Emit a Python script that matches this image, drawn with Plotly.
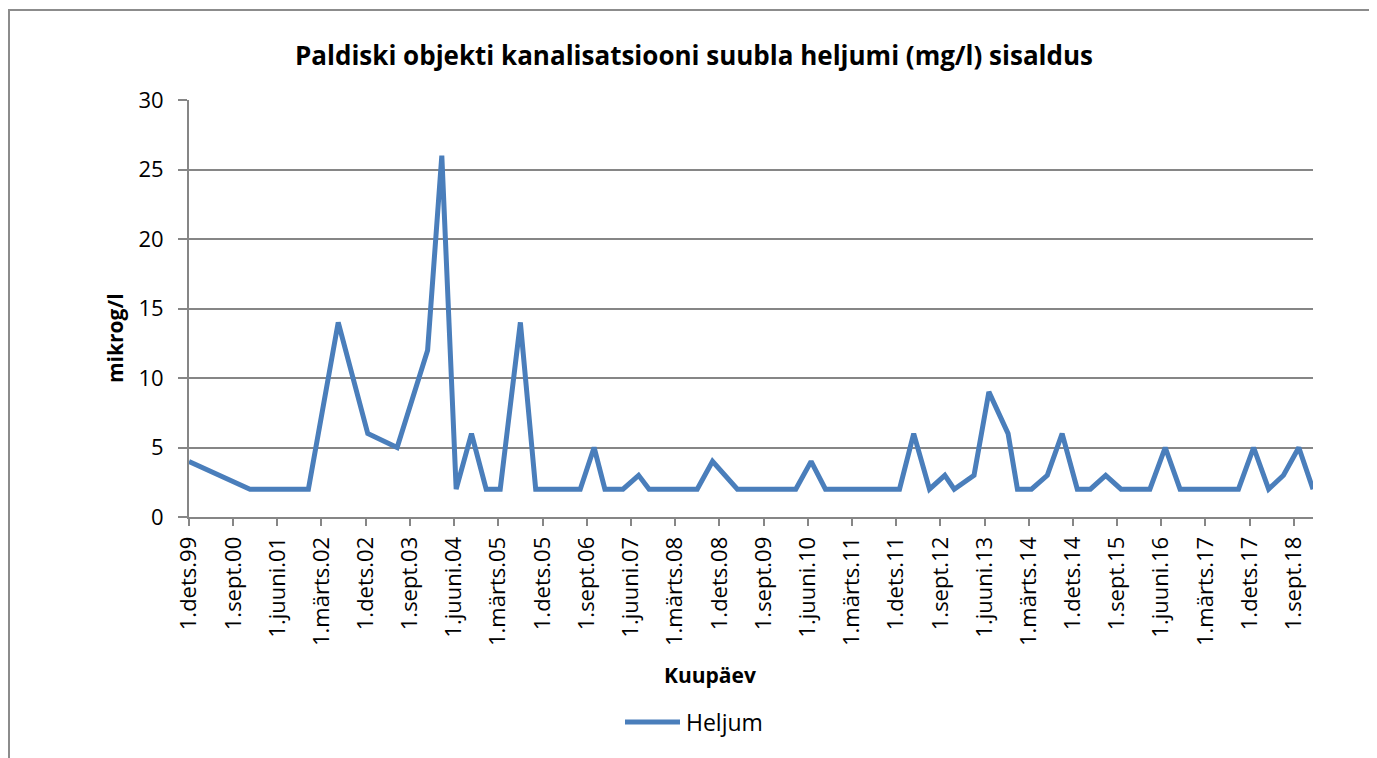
import plotly.graph_objects as go

# ---- data ----
dates = [
    "1999-12-01", "2000-12-13", "2001-12-10", "2002-06-13", "2002-12-13",
    "2003-06-13", "2003-12-19", "2004-03-16", "2004-06-13", "2004-09-16",
    "2004-12-16", "2005-03-13", "2005-07-16", "2005-10-19", "2006-07-22",
    "2006-10-16", "2006-12-22", "2007-04-13", "2007-07-19", "2007-09-22",
    "2008-07-16", "2008-10-19", "2009-03-22", "2010-03-19", "2010-06-22",
    "2010-09-19", "2011-12-22", "2012-03-19", "2012-06-25", "2012-09-28",
    "2012-11-25", "2013-03-28", "2013-06-28", "2013-10-25", "2013-12-22",
    "2014-03-19", "2014-06-25", "2014-09-25", "2014-12-28", "2015-03-19",
    "2015-06-22", "2015-09-25", "2016-03-22", "2016-06-25", "2016-09-25",
    "2017-09-22", "2017-12-25", "2018-03-28", "2018-06-28", "2018-10-01",
    "2018-12-28",
]
heljum = [
    4, 2, 2, 14, 6,
    5, 12, 26, 2, 6,
    2, 2, 14, 2, 2,
    5, 2, 2, 3, 2,
    2, 4, 2, 2, 4,
    2, 2, 6, 2, 3,
    2, 3, 9, 6, 2,
    2, 3, 6, 2, 2,
    3, 2, 2, 5, 2,
    2, 5, 2, 3, 5,
    2,
]
tick_dates = [
    "1999-12-01", "2000-09-01", "2001-06-01", "2002-03-01", "2002-12-01",
    "2003-09-01", "2004-06-01", "2005-03-01", "2005-12-01", "2006-09-01",
    "2007-06-01", "2008-03-01", "2008-12-01", "2009-09-01", "2010-06-01",
    "2011-03-01", "2011-12-01", "2012-09-01", "2013-06-01", "2014-03-01",
    "2014-12-01", "2015-09-01", "2016-06-01", "2017-03-01", "2017-12-01",
    "2018-09-01",
]
tick_labels = [
    "1.dets.99", "1.sept.00", "1.juuni.01", "1.märts.02", "1.dets.02",
    "1.sept.03", "1.juuni.04", "1.märts.05", "1.dets.05", "1.sept.06",
    "1.juuni.07", "1.märts.08", "1.dets.08", "1.sept.09", "1.juuni.10",
    "1.märts.11", "1.dets.11", "1.sept.12", "1.juuni.13", "1.märts.14",
    "1.dets.14", "1.sept.15", "1.juuni.16", "1.märts.17", "1.dets.17",
    "1.sept.18",
]
y_ticks = [0, 5, 10, 15, 20, 25, 30]

title_text = "Paldiski objekti kanalisatsiooni suubla heljumi (mg/l) sisaldus"
x_title = "Kuupäev"
y_title = "mikrog/l"
series_name = "Heljum"

FONT = "Open Sans, Lato, sans-serif"
GRID = "#868686"
LINE = "#4a7ebb"

OFF = 8  # default page body margin
W, H = 1377 - OFF, 758 - OFF
# plot area in page pixels
PL, PR, PT, PB = 189, 1313, 100, 517
L, R, T, B = PL - OFF, PR - OFF, PT - OFF, PB - OFF
pw, ph = R - L, B - T

def px_x(x):  # page pixel -> paper
    return (x - OFF - L) / pw

def px_y(y):
    return (B - (y - OFF)) / ph

fig = go.Figure()
fig.add_trace(go.Scatter(
    x=dates, y=heljum, mode="lines", name=series_name,
    line=dict(color=LINE, width=5), showlegend=False,
))

fig.update_layout(
    width=W, height=H,
    margin=dict(l=L, r=W - R, t=T, b=H - B, autoexpand=False),
    paper_bgcolor="white", plot_bgcolor="white",
    font=dict(family=FONT, color="black", size=21),
    showlegend=False,
    xaxis=dict(
        type="date",
        range=[dates[0], dates[-1]],
        tickmode="array", tickvals=tick_dates, ticktext=tick_labels,
        tickangle=-90,
        showgrid=False, zeroline=False,
        showline=True, linecolor=GRID, linewidth=2,
        ticks="outside", ticklen=7, tickwidth=2, tickcolor=GRID,
        tickfont=dict(family=FONT, size=22, color="black"),
        ticklabelstandoff=2,
    ),
    yaxis=dict(
        range=[0, 30],
        tickmode="array", tickvals=y_ticks,
        showgrid=True, gridcolor=GRID, gridwidth=1.5,
        zeroline=False,
        showline=True, linecolor=GRID, linewidth=2,
        ticks="outside", ticklen=9, tickwidth=2, tickcolor=GRID,
        tickfont=dict(family=FONT, size=22, color="black"),
        ticklabelstandoff=10,
    ),
    annotations=[
        dict(text=f"<b>{title_text}</b>", xref="paper", yref="paper",
             x=px_x(694), y=px_y(55), xanchor="center", yanchor="middle",
             showarrow=False, font=dict(family=FONT, size=26, color="black")),
        dict(text=f"<b>{x_title}</b>", xref="paper", yref="paper",
             x=px_x(710), y=px_y(675), xanchor="center", yanchor="middle",
             showarrow=False, font=dict(family=FONT, size=21, color="black")),
        dict(text=f"<b>{y_title}</b>", xref="paper", yref="paper",
             x=px_x(115), y=px_y(338), xanchor="center", yanchor="middle",
             textangle=-90,
             showarrow=False, font=dict(family=FONT, size=21, color="black")),
        # legend entry
        dict(text=series_name, xref="paper", yref="paper",
             x=px_x(684), y=px_y(722), xanchor="left", yanchor="middle",
             showarrow=False, font=dict(family=FONT, size=23, color="black")),
    ],
    shapes=[
        dict(type="line", xref="paper", yref="paper",
             x0=px_x(9), x1=px_x(9), y0=px_y(9), y1=px_y(758 + 5),
             line=dict(color="#8c8c8c", width=2)),
        dict(type="line", xref="paper", yref="paper",
             x0=px_x(8), x1=px_x(1377 + 5), y0=px_y(10), y1=px_y(10),
             line=dict(color="#8c8c8c", width=2)),
        # legend line sample
        dict(type="line", xref="paper", yref="paper",
             x0=px_x(625), x1=px_x(680), y0=px_y(722), y1=px_y(722),
             line=dict(color=LINE, width=5)),
    ],
)

fig.write_html("out.html")
